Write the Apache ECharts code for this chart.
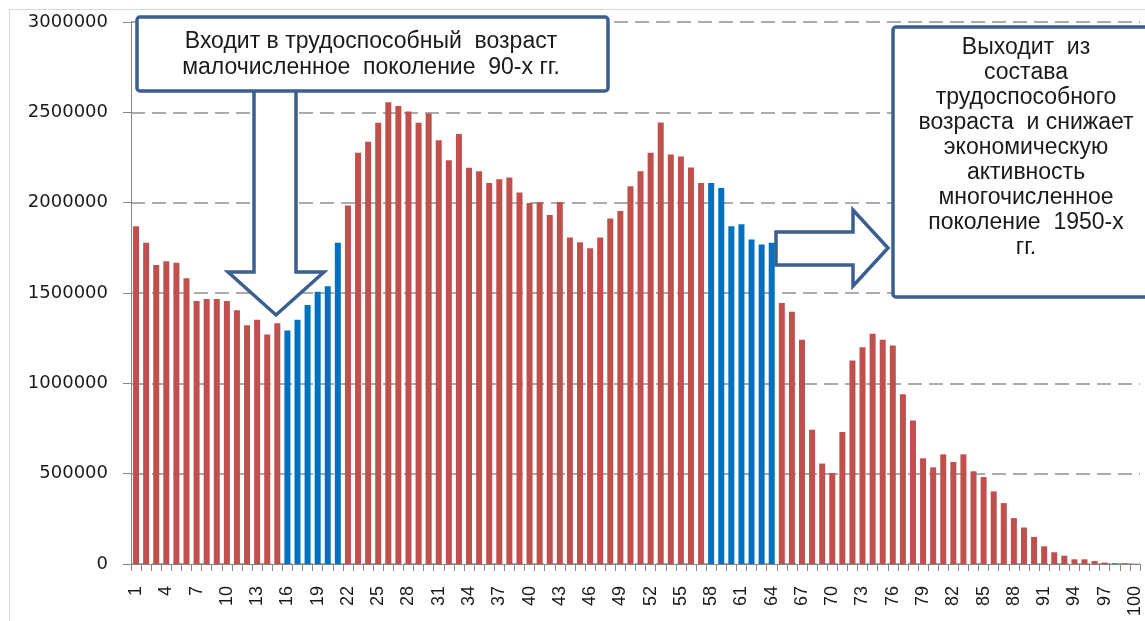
<!DOCTYPE html>
<html>
<head>
<meta charset="utf-8">
<script src="https://cdn.jsdelivr.net/npm/echarts@6/dist/echarts.min.js"></script>
<style>
  html, body { margin: 0; padding: 0; background: #fff; }
  #chart { width: 1145px; height: 621px; }
</style>
</head>
<body>
<div id="chart"></div>
<script>
// ages on the x axis
var ages = [1, 2, 3, 4, 5, 6, 7, 8, 9, 10, 11, 12, 13, 14, 15, 16, 17, 18, 19, 20,
  21, 22, 23, 24, 25, 26, 27, 28, 29, 30, 31, 32, 33, 34, 35, 36, 37, 38, 39, 40,
  41, 42, 43, 44, 45, 46, 47, 48, 49, 50, 51, 52, 53, 54, 55, 56, 57, 58, 59, 60,
  61, 62, 63, 64, 65, 66, 67, 68, 69, 70, 71, 72, 73, 74, 75, 76, 77, 78, 79, 80,
  81, 82, 83, 84, 85, 86, 87, 88, 89, 90, 91, 92, 93, 94, 95, 96, 97, 98, 99, 100];

// population by age
var population = [
  1870000, 1778000, 1655000, 1676000, 1667000, 1582000, 1456000, 1467000, 1467000, 1456000,
  1404000, 1322000, 1352000, 1270000, 1333000, 1293000, 1352000, 1433000, 1507000, 1537000,
  1778000, 1985000, 2276000, 2337000, 2443000, 2556000, 2535000, 2504000, 2443000, 2493000,
  2346000, 2235000, 2380000, 2193000, 2174000, 2109000, 2130000, 2139000, 2056000, 1998000,
  2002000, 1932000, 2004000, 1807000, 1781000, 1748000, 1807000, 1913000, 1954000, 2091000,
  2174000, 2276000, 2444000, 2267000, 2256000, 2194000, 2109000, 2109000, 2081000, 1870000,
  1880000, 1796000, 1769000, 1778000, 1444000, 1396000, 1241000, 743000, 556000, 504000,
  731000, 1126000, 1200000, 1274000, 1241000, 1209000, 939000, 794000, 585000, 535000,
  607000, 565000, 607000, 513000, 481000, 402000, 337000, 254000, 202000, 150000,
  98000, 65000, 46000, 26000, 26000, 17000, 8000, 5000, 3000, 2000
];

// ages drawn in blue (entering / leaving working age)
var blueAges = [16, 17, 18, 19, 20, 21, 58, 59, 60, 61, 62, 63, 64];

var yTicks = [0, 500000, 1000000, 1500000, 2000000, 2500000, 3000000];

var noteLeft = 'Входит в трудоспособный  возраст\nмалочисленное  поколение  90-х гг.';
var noteRight = 'Выходит  из\nсостава\nтрудоспособного\nвозраста  и снижает\nэкономическую\nактивность\nмногочисленное\nпоколение  1950-х\nгг.';

var RED = '#C0504D';
var BLUE = '#0070C0';
var OUTLINE = '#3B5F8F';
var FONT = '"Liberation Sans", Arial, sans-serif';

document.addEventListener('DOMContentLoaded', function () {
  var chart = echarts.init(document.getElementById('chart'));

  var option = {
    animation: false,
    backgroundColor: '#fff',
    textStyle: { fontFamily: FONT },
    grid: { left: 131, right: 5, top: 22, bottom: 57 },
    xAxis: {
      type: 'category',
      data: ages.map(String),
      boundaryGap: true,
      axisLine: { lineStyle: { color: '#868686', width: 1 } },
      axisTick: { show: true, interval: 0, length: 7, lineStyle: { color: '#868686' } },
      axisLabel: {
        interval: 2,
        rotate: 90,
        fontSize: 18,
        margin: 22,
        color: '#1a1a1a',
        fontFamily: FONT
      }
    },
    yAxis: {
      type: 'value',
      min: yTicks[0],
      max: yTicks[yTicks.length - 1],
      interval: 500000,
      axisLine: { show: true, lineStyle: { color: '#868686', width: 1 } },
      axisTick: { show: true, length: 8, lineStyle: { color: '#868686' } },
      splitLine: { lineStyle: { color: '#ABABAB', width: 2, type: [14, 7] } },
      axisLabel: {
        fontSize: 18,
        margin: 23,
        color: '#1a1a1a',
        fontFamily: '"DejaVu Sans", sans-serif',
        formatter: function (v) { return String(v); }
      }
    },
    series: [{
      type: 'bar',
      data: population,
      barWidth: 6,
      itemStyle: {
        color: function (p) {
          return blueAges.indexOf(ages[p.dataIndex]) >= 0 ? BLUE : RED;
        }
      }
    }],
    graphic: [
      // light frame around the chart area
      {
        type: 'rect', z: -10, silent: true,
        shape: { x: 9.5, y: 9.5, width: 1300, height: 800 },
        style: { fill: 'none', stroke: '#D9D9D9', lineWidth: 1 }
      },
      // down arrow
      {
        type: 'polygon', z: 50,
        shape: { points: [[254, 90], [296, 90], [296, 272], [324, 272], [276, 315], [228, 272], [254, 272]] },
        style: { fill: '#fff', stroke: OUTLINE, lineWidth: 3.5, lineJoin: 'miter' }
      },
      // right arrow
      {
        type: 'polygon', z: 50,
        shape: { points: [[776, 232], [853, 232], [853, 210], [888, 248], [853, 286], [853, 265], [776, 265]] },
        style: { fill: '#fff', stroke: OUTLINE, lineWidth: 3.5, lineJoin: 'miter' }
      },
      // left note
      {
        type: 'rect', z: 60,
        shape: { x: 137, y: 17, width: 471, height: 74, r: 3 },
        style: { fill: '#fff', stroke: OUTLINE, lineWidth: 3.5 }
      },
      {
        type: 'text', z: 61,
        style: {
          text: noteLeft, x: 371, y: 55,
          align: 'center', verticalAlign: 'middle',
          font: '23px ' + FONT, lineHeight: 26, fill: '#1a1a1a'
        }
      },
      // right note
      {
        type: 'rect', z: 60,
        shape: { x: 893, y: 27, width: 300, height: 270, r: 3 },
        style: { fill: '#fff', stroke: OUTLINE, lineWidth: 3.5 }
      },
      {
        type: 'text', z: 61,
        style: {
          text: noteRight, x: 1026, y: 148,
          align: 'center', verticalAlign: 'middle',
          font: '23px ' + FONT, lineHeight: 25, fill: '#1a1a1a'
        }
      }
    ]
  };

  chart.setOption(option);
});
</script>
</body>
</html>
